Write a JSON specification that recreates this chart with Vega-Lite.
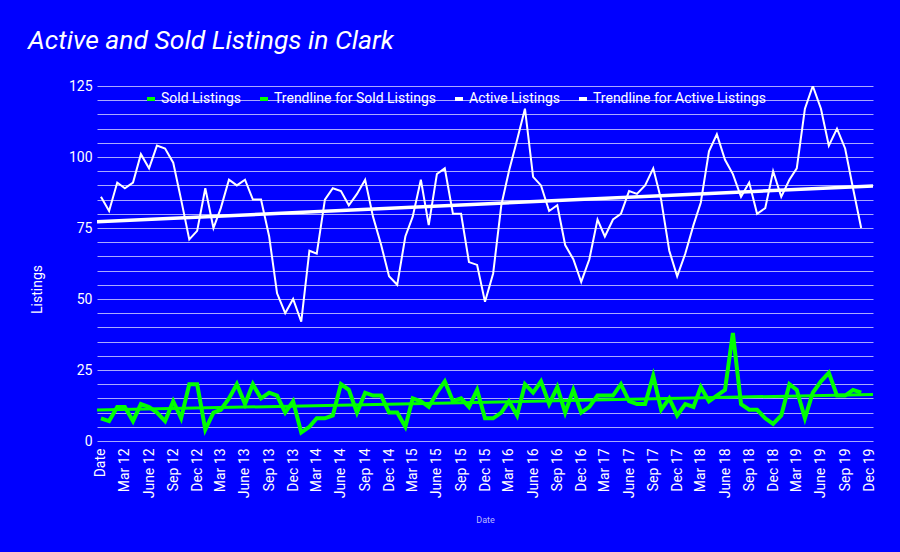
{
  "$schema": "https://vega.github.io/schema/vega-lite/v6.json",
  "width": 776,
  "height": 355,
  "autosize": {"type": "none"},
  "padding": {"left": 97, "top": 86, "right": 27, "bottom": 111},
  "background": "#0000ff",
  "config": {
    "font": "Roboto",
    "view": {"stroke": null},
    "legend": {"labelFont": "Roboto"}
  },
  "title": {
    "text": "Active and Sold Listings in Clark",
    "anchor": "start",
    "frame": "group",
    "dx": -69,
    "offset": 25,
    "fontSize": 26.5,
    "fontStyle": "italic",
    "fontWeight": "normal",
    "color": "#ffffff",
    "font": "Roboto"
  },
  "data": {
    "values": [
      {"date": "2011-12-01", "series": "Active Listings", "value": 86},
      {"date": "2012-01-01", "series": "Active Listings", "value": 81},
      {"date": "2012-02-01", "series": "Active Listings", "value": 91},
      {"date": "2012-03-01", "series": "Active Listings", "value": 89},
      {"date": "2012-04-01", "series": "Active Listings", "value": 91},
      {"date": "2012-05-01", "series": "Active Listings", "value": 101},
      {"date": "2012-06-01", "series": "Active Listings", "value": 96},
      {"date": "2012-07-01", "series": "Active Listings", "value": 104},
      {"date": "2012-08-01", "series": "Active Listings", "value": 103},
      {"date": "2012-09-01", "series": "Active Listings", "value": 98},
      {"date": "2012-10-01", "series": "Active Listings", "value": 85},
      {"date": "2012-11-01", "series": "Active Listings", "value": 71},
      {"date": "2012-12-01", "series": "Active Listings", "value": 74},
      {"date": "2013-01-01", "series": "Active Listings", "value": 89},
      {"date": "2013-02-01", "series": "Active Listings", "value": 75},
      {"date": "2013-03-01", "series": "Active Listings", "value": 82},
      {"date": "2013-04-01", "series": "Active Listings", "value": 92},
      {"date": "2013-05-01", "series": "Active Listings", "value": 90},
      {"date": "2013-06-01", "series": "Active Listings", "value": 92},
      {"date": "2013-07-01", "series": "Active Listings", "value": 85},
      {"date": "2013-08-01", "series": "Active Listings", "value": 85},
      {"date": "2013-09-01", "series": "Active Listings", "value": 72},
      {"date": "2013-10-01", "series": "Active Listings", "value": 52},
      {"date": "2013-11-01", "series": "Active Listings", "value": 45},
      {"date": "2013-12-01", "series": "Active Listings", "value": 50},
      {"date": "2014-01-01", "series": "Active Listings", "value": 42},
      {"date": "2014-02-01", "series": "Active Listings", "value": 67},
      {"date": "2014-03-01", "series": "Active Listings", "value": 66},
      {"date": "2014-04-01", "series": "Active Listings", "value": 85},
      {"date": "2014-05-01", "series": "Active Listings", "value": 89},
      {"date": "2014-06-01", "series": "Active Listings", "value": 88},
      {"date": "2014-07-01", "series": "Active Listings", "value": 83},
      {"date": "2014-08-01", "series": "Active Listings", "value": 87},
      {"date": "2014-09-01", "series": "Active Listings", "value": 92},
      {"date": "2014-10-01", "series": "Active Listings", "value": 79},
      {"date": "2014-11-01", "series": "Active Listings", "value": 69},
      {"date": "2014-12-01", "series": "Active Listings", "value": 58},
      {"date": "2015-01-01", "series": "Active Listings", "value": 55},
      {"date": "2015-02-01", "series": "Active Listings", "value": 72},
      {"date": "2015-03-01", "series": "Active Listings", "value": 79},
      {"date": "2015-04-01", "series": "Active Listings", "value": 92},
      {"date": "2015-05-01", "series": "Active Listings", "value": 76},
      {"date": "2015-06-01", "series": "Active Listings", "value": 94},
      {"date": "2015-07-01", "series": "Active Listings", "value": 96},
      {"date": "2015-08-01", "series": "Active Listings", "value": 80},
      {"date": "2015-09-01", "series": "Active Listings", "value": 80},
      {"date": "2015-10-01", "series": "Active Listings", "value": 63},
      {"date": "2015-11-01", "series": "Active Listings", "value": 62},
      {"date": "2015-12-01", "series": "Active Listings", "value": 49},
      {"date": "2016-01-01", "series": "Active Listings", "value": 59},
      {"date": "2016-02-01", "series": "Active Listings", "value": 83},
      {"date": "2016-03-01", "series": "Active Listings", "value": 95},
      {"date": "2016-04-01", "series": "Active Listings", "value": 106},
      {"date": "2016-05-01", "series": "Active Listings", "value": 117},
      {"date": "2016-06-01", "series": "Active Listings", "value": 93},
      {"date": "2016-07-01", "series": "Active Listings", "value": 90},
      {"date": "2016-08-01", "series": "Active Listings", "value": 81},
      {"date": "2016-09-01", "series": "Active Listings", "value": 83},
      {"date": "2016-10-01", "series": "Active Listings", "value": 69},
      {"date": "2016-11-01", "series": "Active Listings", "value": 64},
      {"date": "2016-12-01", "series": "Active Listings", "value": 56},
      {"date": "2017-01-01", "series": "Active Listings", "value": 64},
      {"date": "2017-02-01", "series": "Active Listings", "value": 78},
      {"date": "2017-03-01", "series": "Active Listings", "value": 72},
      {"date": "2017-04-01", "series": "Active Listings", "value": 78},
      {"date": "2017-05-01", "series": "Active Listings", "value": 80},
      {"date": "2017-06-01", "series": "Active Listings", "value": 88},
      {"date": "2017-07-01", "series": "Active Listings", "value": 87},
      {"date": "2017-08-01", "series": "Active Listings", "value": 90},
      {"date": "2017-09-01", "series": "Active Listings", "value": 96},
      {"date": "2017-10-01", "series": "Active Listings", "value": 85},
      {"date": "2017-11-01", "series": "Active Listings", "value": 67},
      {"date": "2017-12-01", "series": "Active Listings", "value": 58},
      {"date": "2018-01-01", "series": "Active Listings", "value": 66},
      {"date": "2018-02-01", "series": "Active Listings", "value": 76},
      {"date": "2018-03-01", "series": "Active Listings", "value": 84},
      {"date": "2018-04-01", "series": "Active Listings", "value": 102},
      {"date": "2018-05-01", "series": "Active Listings", "value": 108},
      {"date": "2018-06-01", "series": "Active Listings", "value": 99},
      {"date": "2018-07-01", "series": "Active Listings", "value": 94},
      {"date": "2018-08-01", "series": "Active Listings", "value": 86},
      {"date": "2018-09-01", "series": "Active Listings", "value": 91},
      {"date": "2018-10-01", "series": "Active Listings", "value": 80},
      {"date": "2018-11-01", "series": "Active Listings", "value": 82},
      {"date": "2018-12-01", "series": "Active Listings", "value": 95},
      {"date": "2019-01-01", "series": "Active Listings", "value": 86},
      {"date": "2019-02-01", "series": "Active Listings", "value": 92},
      {"date": "2019-03-01", "series": "Active Listings", "value": 96},
      {"date": "2019-04-01", "series": "Active Listings", "value": 117},
      {"date": "2019-05-01", "series": "Active Listings", "value": 125},
      {"date": "2019-06-01", "series": "Active Listings", "value": 117},
      {"date": "2019-07-01", "series": "Active Listings", "value": 104},
      {"date": "2019-08-01", "series": "Active Listings", "value": 110},
      {"date": "2019-09-01", "series": "Active Listings", "value": 103},
      {"date": "2019-10-01", "series": "Active Listings", "value": 89},
      {"date": "2019-11-01", "series": "Active Listings", "value": 75},
      {"date": "2011-12-01", "series": "Sold Listings", "value": 8},
      {"date": "2012-01-01", "series": "Sold Listings", "value": 7},
      {"date": "2012-02-01", "series": "Sold Listings", "value": 12},
      {"date": "2012-03-01", "series": "Sold Listings", "value": 12},
      {"date": "2012-04-01", "series": "Sold Listings", "value": 7},
      {"date": "2012-05-01", "series": "Sold Listings", "value": 13},
      {"date": "2012-06-01", "series": "Sold Listings", "value": 12},
      {"date": "2012-07-01", "series": "Sold Listings", "value": 10},
      {"date": "2012-08-01", "series": "Sold Listings", "value": 7},
      {"date": "2012-09-01", "series": "Sold Listings", "value": 14},
      {"date": "2012-10-01", "series": "Sold Listings", "value": 8},
      {"date": "2012-11-01", "series": "Sold Listings", "value": 20},
      {"date": "2012-12-01", "series": "Sold Listings", "value": 20},
      {"date": "2013-01-01", "series": "Sold Listings", "value": 4},
      {"date": "2013-02-01", "series": "Sold Listings", "value": 10},
      {"date": "2013-03-01", "series": "Sold Listings", "value": 11},
      {"date": "2013-04-01", "series": "Sold Listings", "value": 15},
      {"date": "2013-05-01", "series": "Sold Listings", "value": 20},
      {"date": "2013-06-01", "series": "Sold Listings", "value": 13},
      {"date": "2013-07-01", "series": "Sold Listings", "value": 20},
      {"date": "2013-08-01", "series": "Sold Listings", "value": 15},
      {"date": "2013-09-01", "series": "Sold Listings", "value": 17},
      {"date": "2013-10-01", "series": "Sold Listings", "value": 16},
      {"date": "2013-11-01", "series": "Sold Listings", "value": 10},
      {"date": "2013-12-01", "series": "Sold Listings", "value": 14},
      {"date": "2014-01-01", "series": "Sold Listings", "value": 3},
      {"date": "2014-02-01", "series": "Sold Listings", "value": 5},
      {"date": "2014-03-01", "series": "Sold Listings", "value": 8},
      {"date": "2014-04-01", "series": "Sold Listings", "value": 8},
      {"date": "2014-05-01", "series": "Sold Listings", "value": 9},
      {"date": "2014-06-01", "series": "Sold Listings", "value": 20},
      {"date": "2014-07-01", "series": "Sold Listings", "value": 18},
      {"date": "2014-08-01", "series": "Sold Listings", "value": 10},
      {"date": "2014-09-01", "series": "Sold Listings", "value": 17},
      {"date": "2014-10-01", "series": "Sold Listings", "value": 16},
      {"date": "2014-11-01", "series": "Sold Listings", "value": 16},
      {"date": "2014-12-01", "series": "Sold Listings", "value": 10},
      {"date": "2015-01-01", "series": "Sold Listings", "value": 10},
      {"date": "2015-02-01", "series": "Sold Listings", "value": 5},
      {"date": "2015-03-01", "series": "Sold Listings", "value": 15},
      {"date": "2015-04-01", "series": "Sold Listings", "value": 14},
      {"date": "2015-05-01", "series": "Sold Listings", "value": 12},
      {"date": "2015-06-01", "series": "Sold Listings", "value": 17},
      {"date": "2015-07-01", "series": "Sold Listings", "value": 21},
      {"date": "2015-08-01", "series": "Sold Listings", "value": 14},
      {"date": "2015-09-01", "series": "Sold Listings", "value": 15},
      {"date": "2015-10-01", "series": "Sold Listings", "value": 12},
      {"date": "2015-11-01", "series": "Sold Listings", "value": 18},
      {"date": "2015-12-01", "series": "Sold Listings", "value": 8},
      {"date": "2016-01-01", "series": "Sold Listings", "value": 8},
      {"date": "2016-02-01", "series": "Sold Listings", "value": 10},
      {"date": "2016-03-01", "series": "Sold Listings", "value": 14},
      {"date": "2016-04-01", "series": "Sold Listings", "value": 9},
      {"date": "2016-05-01", "series": "Sold Listings", "value": 20},
      {"date": "2016-06-01", "series": "Sold Listings", "value": 17},
      {"date": "2016-07-01", "series": "Sold Listings", "value": 21},
      {"date": "2016-08-01", "series": "Sold Listings", "value": 13},
      {"date": "2016-09-01", "series": "Sold Listings", "value": 19},
      {"date": "2016-10-01", "series": "Sold Listings", "value": 10},
      {"date": "2016-11-01", "series": "Sold Listings", "value": 18},
      {"date": "2016-12-01", "series": "Sold Listings", "value": 10},
      {"date": "2017-01-01", "series": "Sold Listings", "value": 12},
      {"date": "2017-02-01", "series": "Sold Listings", "value": 16},
      {"date": "2017-03-01", "series": "Sold Listings", "value": 16},
      {"date": "2017-04-01", "series": "Sold Listings", "value": 16},
      {"date": "2017-05-01", "series": "Sold Listings", "value": 20},
      {"date": "2017-06-01", "series": "Sold Listings", "value": 14},
      {"date": "2017-07-01", "series": "Sold Listings", "value": 13},
      {"date": "2017-08-01", "series": "Sold Listings", "value": 13},
      {"date": "2017-09-01", "series": "Sold Listings", "value": 23},
      {"date": "2017-10-01", "series": "Sold Listings", "value": 11},
      {"date": "2017-11-01", "series": "Sold Listings", "value": 15},
      {"date": "2017-12-01", "series": "Sold Listings", "value": 9},
      {"date": "2018-01-01", "series": "Sold Listings", "value": 13},
      {"date": "2018-02-01", "series": "Sold Listings", "value": 12},
      {"date": "2018-03-01", "series": "Sold Listings", "value": 19},
      {"date": "2018-04-01", "series": "Sold Listings", "value": 14},
      {"date": "2018-05-01", "series": "Sold Listings", "value": 16},
      {"date": "2018-06-01", "series": "Sold Listings", "value": 18},
      {"date": "2018-07-01", "series": "Sold Listings", "value": 38},
      {"date": "2018-08-01", "series": "Sold Listings", "value": 13},
      {"date": "2018-09-01", "series": "Sold Listings", "value": 11},
      {"date": "2018-10-01", "series": "Sold Listings", "value": 11},
      {"date": "2018-11-01", "series": "Sold Listings", "value": 8},
      {"date": "2018-12-01", "series": "Sold Listings", "value": 6},
      {"date": "2019-01-01", "series": "Sold Listings", "value": 9},
      {"date": "2019-02-01", "series": "Sold Listings", "value": 20},
      {"date": "2019-03-01", "series": "Sold Listings", "value": 18},
      {"date": "2019-04-01", "series": "Sold Listings", "value": 8},
      {"date": "2019-05-01", "series": "Sold Listings", "value": 17},
      {"date": "2019-06-01", "series": "Sold Listings", "value": 21},
      {"date": "2019-07-01", "series": "Sold Listings", "value": 24},
      {"date": "2019-08-01", "series": "Sold Listings", "value": 16},
      {"date": "2019-09-01", "series": "Sold Listings", "value": 16},
      {"date": "2019-10-01", "series": "Sold Listings", "value": 18},
      {"date": "2019-11-01", "series": "Sold Listings", "value": 17},
      {"date": "2011-11-16", "series": "Trendline for Sold Listings", "value": 10.9},
      {"date": "2019-12-16", "series": "Trendline for Sold Listings", "value": 16.4},
      {"date": "2011-11-16", "series": "Trendline for Active Listings", "value": 77.2},
      {"date": "2019-12-16", "series": "Trendline for Active Listings", "value": 89.8}
    ]
  },
  "encoding": {
    "x": {
      "field": "date",
      "type": "temporal",
      "scale": {
        "type": "utc",
        "domain": [
          {"year": 2011, "month": 11, "date": 16, "utc": true},
          {"year": 2019, "month": 12, "date": 16, "utc": true}
        ]
      },
      "axis": {
        "title": "Date",
        "titleFontSize": 9,
        "titleFontWeight": "normal",
        "titleColor": "#b8b8ff",
        "titleY": 78,
        "titleBaseline": "middle",
        "grid": false,
        "domain": false,
        "ticks": false,
        "labelAngle": 270,
        "labelAlign": "right",
        "labelBaseline": "middle",
        "labelFontSize": 14,
        "labelColor": "#ffffff",
        "labelPadding": 7,
        "labelOverlap": false,
        "labelBound": false,
        "labelFlush": false,
        "values": [
          {"year": 2011, "month": 12, "date": 1, "utc": true},
          {"year": 2012, "month": 3, "date": 1, "utc": true},
          {"year": 2012, "month": 6, "date": 1, "utc": true},
          {"year": 2012, "month": 9, "date": 1, "utc": true},
          {"year": 2012, "month": 12, "date": 1, "utc": true},
          {"year": 2013, "month": 3, "date": 1, "utc": true},
          {"year": 2013, "month": 6, "date": 1, "utc": true},
          {"year": 2013, "month": 9, "date": 1, "utc": true},
          {"year": 2013, "month": 12, "date": 1, "utc": true},
          {"year": 2014, "month": 3, "date": 1, "utc": true},
          {"year": 2014, "month": 6, "date": 1, "utc": true},
          {"year": 2014, "month": 9, "date": 1, "utc": true},
          {"year": 2014, "month": 12, "date": 1, "utc": true},
          {"year": 2015, "month": 3, "date": 1, "utc": true},
          {"year": 2015, "month": 6, "date": 1, "utc": true},
          {"year": 2015, "month": 9, "date": 1, "utc": true},
          {"year": 2015, "month": 12, "date": 1, "utc": true},
          {"year": 2016, "month": 3, "date": 1, "utc": true},
          {"year": 2016, "month": 6, "date": 1, "utc": true},
          {"year": 2016, "month": 9, "date": 1, "utc": true},
          {"year": 2016, "month": 12, "date": 1, "utc": true},
          {"year": 2017, "month": 3, "date": 1, "utc": true},
          {"year": 2017, "month": 6, "date": 1, "utc": true},
          {"year": 2017, "month": 9, "date": 1, "utc": true},
          {"year": 2017, "month": 12, "date": 1, "utc": true},
          {"year": 2018, "month": 3, "date": 1, "utc": true},
          {"year": 2018, "month": 6, "date": 1, "utc": true},
          {"year": 2018, "month": 9, "date": 1, "utc": true},
          {"year": 2018, "month": 12, "date": 1, "utc": true},
          {"year": 2019, "month": 3, "date": 1, "utc": true},
          {"year": 2019, "month": 6, "date": 1, "utc": true},
          {"year": 2019, "month": 9, "date": 1, "utc": true},
          {"year": 2019, "month": 12, "date": 1, "utc": true}
        ],
        "labelExpr": "utcyear(datum.value) < 2012 ? 'Date' : ['Jan','Feb','Mar','Apr','May','June','July','Aug','Sep','Oct','Nov','Dec'][utcmonth(datum.value)] + ' ' + utcFormat(datum.value, '%y')"
      }
    },
    "y": {
      "field": "value",
      "type": "quantitative",
      "scale": {"domain": [0, 125], "nice": false, "zero": true},
      "axis": {
        "title": "Listings",
        "titleFontSize": 14,
        "titleFontWeight": "normal",
        "titleColor": "#ffffff",
        "titleAngle": 270,
        "titleX": -60,
        "titleY": 203,
        "titleAlign": "center",
        "titleBaseline": "middle",
        "values": [0, 5, 10, 15, 20, 25, 30, 35, 40, 45, 50, 55, 60, 65, 70, 75, 80, 85, 90, 95, 100, 105, 110, 115, 120, 125],
        "labelExpr": "datum.value % 25 === 0 ? datum.label : ''",
        "labelOverlap": false,
        "labelBound": false,
        "labelFlush": false,
        "labelFontSize": 14,
        "labelColor": "#ffffff",
        "labelPadding": 5,
        "ticks": false,
        "domain": false,
        "grid": true,
        "gridColor": "#a9a9ff",
        "gridWidth": 1
      }
    },
    "color": {
      "field": "series",
      "type": "nominal",
      "scale": {
        "domain": ["Sold Listings", "Trendline for Sold Listings", "Active Listings", "Trendline for Active Listings"],
        "range": ["#00ff00", "#00ff00", "#ffffff", "#ffffff"]
      },
      "legend": {
        "title": null,
        "orient": "none",
        "legendX": 47,
        "legendY": 6,
        "direction": "horizontal",
        "labelFontSize": 14,
        "labelColor": "#ffffff",
        "labelLimit": 0,
        "symbolType": "stroke",
        "symbolStrokeWidth": 4,
        "symbolSize": 64,
        "columnPadding": 10,
        "labelOffset": 3
      }
    }
  },
  "layer": [
    {
      "transform": [{"filter": "datum.series === 'Sold Listings'"}],
      "mark": {"type": "line", "clip": true, "strokeWidth": 4}
    },
    {
      "transform": [{"filter": "datum.series === 'Trendline for Sold Listings'"}],
      "mark": {"type": "line", "clip": true, "strokeWidth": 3}
    },
    {
      "transform": [{"filter": "datum.series === 'Active Listings'"}],
      "mark": {"type": "line", "clip": true, "strokeWidth": 2}
    },
    {
      "transform": [{"filter": "datum.series === 'Trendline for Active Listings'"}],
      "mark": {"type": "line", "clip": true, "strokeWidth": 3.5}
    }
  ]
}
